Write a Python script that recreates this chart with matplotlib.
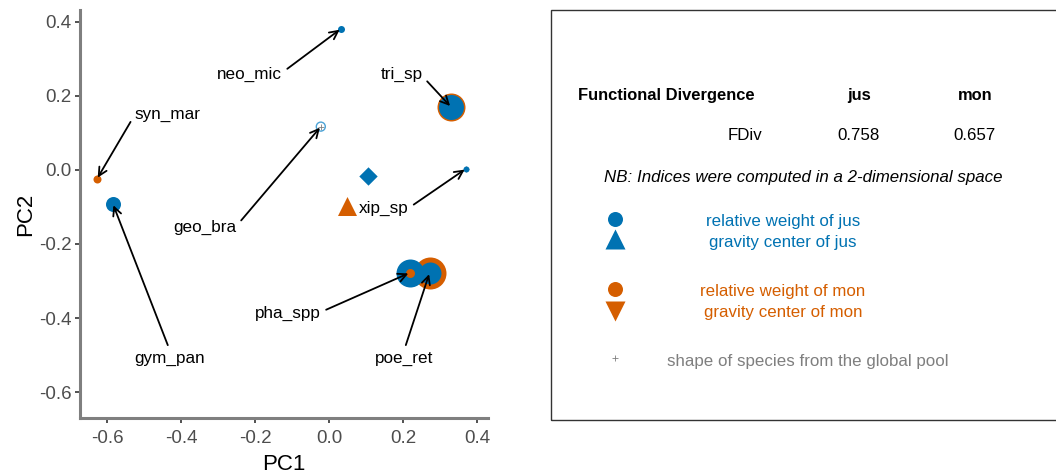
import matplotlib.pyplot as plt
from matplotlib.patches import Rectangle

plt.rcParams["font.family"] = ["Liberation Sans", "DejaVu Sans"]

BLUE = "#0072B2"
ORANGE = "#D55E00"
GREY = "#7F7F7F"

# species coordinates in the PCA space
species = ["neo_mic", "tri_sp", "syn_mar", "gym_pan", "geo_bra",
           "xip_sp", "pha_spp", "poe_ret"]
pc1 = [0.032, 0.330, -0.627, -0.584, -0.022, 0.370, 0.218, 0.272]
pc2 = [0.381, 0.170, -0.024, -0.092, 0.117, 0.003, -0.278, -0.278]

# relative weights (marker diameter in px) in each assemblage
weight_jus = [7, 25, 0, 15, 0, 6, 28, 22]
weight_mon = [0, 28, 8, 0, 0, 0, 9, 32]

# label positions and the side of the label the arrow leaves from
label_x = [-0.214, 0.196, -0.525, -0.430, -0.335, 0.081, -0.111, 0.203]
label_y = [0.259, 0.257, 0.149, -0.508, -0.155, -0.103, -0.388, -0.508]
label_ha = ["center", "center", "left", "center", "center", "left",
            "center", "center"]
arrow_from = [(1, 0.6), (1, 0.4), (0, 0.5), (0.5, 1), (1, 0.6), (1, 0.5),
              (1, 0.6), (0.5, 1)]

gravity_jus = (0.105, -0.016)
gravity_mon = (0.049, -0.097)

x_ticks = [-0.6, -0.4, -0.2, 0.0, 0.2, 0.4]
y_ticks = [-0.6, -0.4, -0.2, 0.0, 0.2, 0.4]

fdiv_jus = 0.758
fdiv_mon = 0.657


def px_size(diameter):
    return (diameter * 0.72) ** 2


figure = plt.figure(figsize=(10.56, 4.75), dpi=100)

axis = figure.add_axes([80 / 1056, 57 / 475, 408 / 1056, 408 / 475])
axis.set_xlim(-0.673, 0.43)
axis.set_ylim(-0.67, 0.432)

for spine in ["top", "right"]:
    axis.spines[spine].set_visible(False)
for spine in ["left", "bottom"]:
    axis.spines[spine].set_color(GREY)
    axis.spines[spine].set_linewidth(2.2)

axis.set_xticks(x_ticks)
axis.set_yticks(y_ticks)
axis.set_xticklabels([f"{v:.1f}" for v in x_ticks])
axis.set_yticklabels([f"{v:.1f}" for v in y_ticks])
axis.tick_params(colors="#333333", labelcolor="#4D4D4D", labelsize=13.5,
                 length=3.5, width=1.2)
axis.tick_params(axis="x", pad=5)
axis.tick_params(axis="y", pad=2.5)
axis.set_xlabel("PC1", fontsize=16, labelpad=5)
axis.set_ylabel("PC2", fontsize=16, labelpad=2)

# larger circles first so that the smaller ones stay visible
order = sorted(range(len(species)),
               key=lambda i: -max(weight_jus[i], weight_mon[i]))
for i in order:
    layers = [(weight_jus[i], BLUE), (weight_mon[i], ORANGE)]
    layers.sort(key=lambda item: -item[0])
    for diameter, colour in layers:
        if diameter > 0:
            axis.scatter(pc1[i], pc2[i], s=px_size(diameter), color=colour,
                         linewidths=0, zorder=3)

# global pool species
axis.scatter(pc1, pc2, marker="+", s=20, color=GREY, linewidths=0.6,
             zorder=2)
geo = species.index("geo_bra")
axis.scatter(pc1[geo], pc2[geo], s=px_size(9), facecolor="none",
             edgecolor="#4DA3D6", linewidths=1.0, zorder=4)

axis.scatter(*gravity_jus, marker="D", s=px_size(13), color=BLUE,
             linewidths=0, zorder=4)
axis.scatter(*gravity_mon, marker="^", s=px_size(19), color=ORANGE,
             linewidths=0, zorder=4)

for i, name in enumerate(species):
    axis.annotate(
        name,
        xy=(pc1[i], pc2[i]),
        xytext=(label_x[i], label_y[i]),
        ha=label_ha[i],
        va="center",
        fontsize=12.3,
        arrowprops=dict(arrowstyle="->", color="black", lw=1.3,
                        shrinkA=2, shrinkB=1, mutation_scale=15,
                        relpos=arrow_from[i]),
        zorder=5,
    )

# right panel with the index table and legend
figure.patches.append(
    Rectangle((551 / 1056, 1 - 420 / 475), 600 / 1056, 410 / 475,
              transform=figure.transFigure, fill=False,
              edgecolor="#333333", linewidth=1.0)
)


def fig_text(x, y, text, **kwargs):
    figure.text(x / 1056, 1 - y / 475, text, va="center_baseline", **kwargs)


fig_text(578, 94, "Functional Divergence", fontsize=11.9,
         fontweight="bold", ha="left")
fig_text(859, 94, "jus", fontsize=11.9, fontweight="bold", ha="center")
fig_text(975, 94, "mon", fontsize=11.9, fontweight="bold", ha="center")
fig_text(762, 134, "FDiv", fontsize=12.2, ha="right")
fig_text(859, 134, f"{fdiv_jus:.3f}", fontsize=12.2, ha="center")
fig_text(975, 134, f"{fdiv_mon:.3f}", fontsize=12.2, ha="center")
fig_text(803, 176, "NB: Indices were computed in a 2-dimensional space",
         fontsize=12.2, style="italic", ha="center")

legend_axis = figure.add_axes([0, 0, 1, 1], facecolor="none")
legend_axis.set_xlim(0, 1056)
legend_axis.set_ylim(475, 0)
legend_axis.axis("off")
legend_axis.scatter(615, 219, s=px_size(15), color=BLUE, linewidths=0)
legend_axis.scatter(615, 239, marker="^", s=px_size(20), color=BLUE,
                    linewidths=0)
legend_axis.scatter(615, 289, s=px_size(15), color=ORANGE, linewidths=0)
legend_axis.scatter(615, 311, marker="v", s=px_size(20), color=ORANGE,
                    linewidths=0)
legend_axis.scatter(615, 358, marker="+", s=20, color=GREY, linewidths=0.6)

fig_text(783, 220, "relative weight of jus", fontsize=12.2, color=BLUE,
         ha="center")
fig_text(783, 241, "gravity center of jus", fontsize=12.2, color=BLUE,
         ha="center")
fig_text(783, 290, "relative weight of mon", fontsize=12.2, color=ORANGE,
         ha="center")
fig_text(783, 311, "gravity center of mon", fontsize=12.2, color=ORANGE,
         ha="center")
fig_text(808, 360, "shape of species from the global pool", fontsize=12.2,
         color=GREY, ha="center")

figure.savefig("out.png", dpi=100)
